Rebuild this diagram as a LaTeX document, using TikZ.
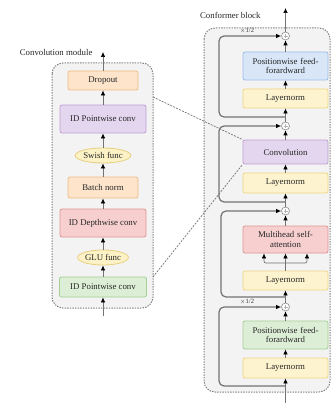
\documentclass[tikz,border=0pt]{standalone}
\usepackage{fontspec}
\setmainfont{Liberation Serif}
\usetikzlibrary{arrows.meta,shapes.geometric}

\definecolor{orfill}{HTML}{FDE4CB}\definecolor{ordraw}{HTML}{F0BA84}
\definecolor{pufill}{HTML}{E4D6EE}\definecolor{pudraw}{HTML}{BFA0D6}
\definecolor{elfill}{HTML}{FDF2C6}\definecolor{eldraw}{HTML}{E6CF80}
\definecolor{refill}{HTML}{F7CFCF}\definecolor{redraw}{HTML}{E09494}
\definecolor{grfill}{HTML}{DDEED6}\definecolor{grdraw}{HTML}{A3CE94}
\definecolor{blfill}{HTML}{D8E6F8}\definecolor{bldraw}{HTML}{9BBCE6}
\definecolor{lnfill}{HTML}{FDF3CE}\definecolor{lndraw}{HTML}{EFD584}
\definecolor{panel}{HTML}{F3F3F3}

\tikzset{
  txt/.style={font=\fontsize{8.8}{9.4}\selectfont, text=black!85},
  blk/.style={txt, draw, rounded corners=2pt, line width=0.8pt, align=center,
    inner sep=1pt},
  orbox/.style={blk, fill=orfill, draw=ordraw, minimum width=70pt},
  pubox/.style={blk, fill=pufill, draw=pudraw},
  rebox/.style={blk, fill=refill, draw=redraw},
  grbox/.style={blk, fill=grfill, draw=grdraw},
  blbox/.style={blk, fill=blfill, draw=bldraw},
  lnbox/.style={blk, fill=lnfill, draw=lndraw, minimum width=85pt},
  func/.style={txt, ellipse, draw=eldraw, fill=elfill, line width=0.8pt,
    inner sep=0pt, minimum width=45pt, minimum height=15pt},
  addc/.style={circle, draw=black!45, fill=white, line width=0.6pt,
    minimum size=8pt, inner sep=0pt,
    path picture={\draw[black!30, line width=0.4pt]
      (path picture bounding box.center) ++(-2pt,0) -- ++(4pt,0)
      (path picture bounding box.center) ++(0,-2pt) -- ++(0,4pt);}},
  panelbox/.style={fill=panel, draw=black!50, line width=1pt,
    dash pattern=on 1.4pt off 1.2pt, rounded corners=11pt},
  arr/.style={draw=black!55, line width=0.7pt,
    -{Latex[black, length=5pt, width=4.5pt]}},
  skip/.style={draw=black!55, line width=1.2pt, rounded corners=5pt,
    -{Latex[black, length=5pt, width=4.5pt]}},
  link/.style={draw=black!55, line width=0.7pt, dash pattern=on 2pt off 1.2pt},
}

\begin{document}
\begin{tikzpicture}[x=1pt, y=-1pt]
\useasboundingbox (0,0) rectangle (333,403);

% ---------- convolution module ----------
\draw[panelbox] (52,63) rectangle (153,308);
\node[txt, anchor=east] (convtitle) at (96,52) {Convolution module};

\node[orbox, minimum height=19pt] (drop) at (103,80.5) {Dropout};
\node[pubox, minimum width=86pt, minimum height=28pt] (pw1) at (103,119) {ID Pointwise conv};
\node[func] (swish) at (103,155.5) {Swish func};
\node[orbox, minimum height=21pt] (bn) at (103,187.5) {Batch norm};
\node[rebox, minimum width=86pt, minimum height=28pt] (dw) at (103,223) {ID Depthwise conv};
\node[func] (glu) at (103,257.5) {GLU func};
\node[grbox, minimum width=87pt, minimum height=20pt] (pw2) at (103,287) {ID Pointwise conv};

\coordinate (cin) at (103,316);
\coordinate (cout) at (103,52);
\draw[arr] (cin) -- (pw2);
\draw[arr] (pw2) -- (glu);
\draw[arr] (glu) -- (dw);
\draw[arr] (dw) -- (bn);
\draw[arr] (bn) -- (swish);
\draw[arr] (swish) -- (pw1);
\draw[arr] (pw1) -- (drop);
\draw[arr] (drop) -- (cout);

% ---------- conformer block ----------
\draw[panelbox] (204,28) rectangle (330,392);
\node[txt, anchor=east] (conftitle) at (264,15) {Conformer block};

\node[blbox, minimum width=85pt, minimum height=28pt, text width=80pt] (fftop) at (285.5,66) {Positionwise feed-\\forardward};
\node[lnbox, minimum height=19pt] (ln1) at (285.5,98.5) {Layernorm};
\node[pubox, minimum width=85pt, minimum height=24pt] (conv) at (285.5,152) {Convolution};
\node[lnbox, minimum height=20pt] (ln2) at (285.5,183) {Layernorm};
\node[rebox, minimum width=85pt, minimum height=27pt, text width=80pt] (mhsa) at (285.5,239.5) {Multihead self-\\attention};
\node[lnbox, minimum height=19pt] (ln3) at (285.5,280.5) {Layernorm};
\node[grbox, minimum width=85pt, minimum height=28pt, text width=80pt] (ffbot) at (285.5,335) {Positionwise feed-\\forardward};
\node[lnbox, minimum height=20pt] (ln4) at (285.5,368) {Layernorm};

\node[addc] (add1) at (285.5,36) {};
\node[addc] (add2) at (285.5,126) {};
\node[addc] (add3) at (285.5,211) {};
\node[addc] (add4) at (285.5,307) {};

\coordinate (bin) at (285.5,403);
\coordinate (bout) at (285.5,8);
\coordinate (s4) at (285.5,386);
\coordinate (s3) at (285.5,297);
\coordinate (s2) at (285.5,202);
\coordinate (s1) at (285.5,117);
\coordinate (split) at (285.5,263);

% main path
\draw[arr] (bin) -- (ln4);
\draw[arr] (ln4) -- (ffbot);
\draw[arr] (ffbot) -- (add4);
\draw[arr] (add4) -- (ln3);
\draw[arr] (ln3) -- (mhsa);
\draw[arr, rounded corners=2pt] (split) -| ([xshift=-21.5pt]mhsa.south);
\draw[arr, rounded corners=2pt] (split) -| ([xshift=21.5pt]mhsa.south);
\draw[arr] (mhsa) -- (add3);
\draw[arr] (add3) -- (ln2);
\draw[arr] (ln2) -- (conv);
\draw[arr] (conv) -- (add2);
\draw[arr] (add2) -- (ln1);
\draw[arr] (ln1) -- (fftop);
\draw[arr] (fftop) -- (add1);
\draw[arr] (add1) -- (bout);

% residual connections
\draw[skip] (s4) -| (219,307) -- (add4.west);
\draw[skip] (s3) -| (221,211) -- (add3.west);
\draw[skip] (s2) -| (219,126) -- (add2.west);
\draw[skip] (s1) -| (219,36) -- (add1.west);
\node[font=\fontsize{6.5}{6.5}\selectfont, text=black!80, inner sep=0pt] (half4) at (247,302) {$\times$1/2};
\node[font=\fontsize{6.5}{6.5}\selectfont, text=black!80, inner sep=0pt] (half1) at (247,31) {$\times$1/2};

% zoom links between the module and its block
\draw[link] (153,97) -- (conv.north west);
\draw[link] (153,277) -- (conv.south west);
\end{tikzpicture}
\end{document}
